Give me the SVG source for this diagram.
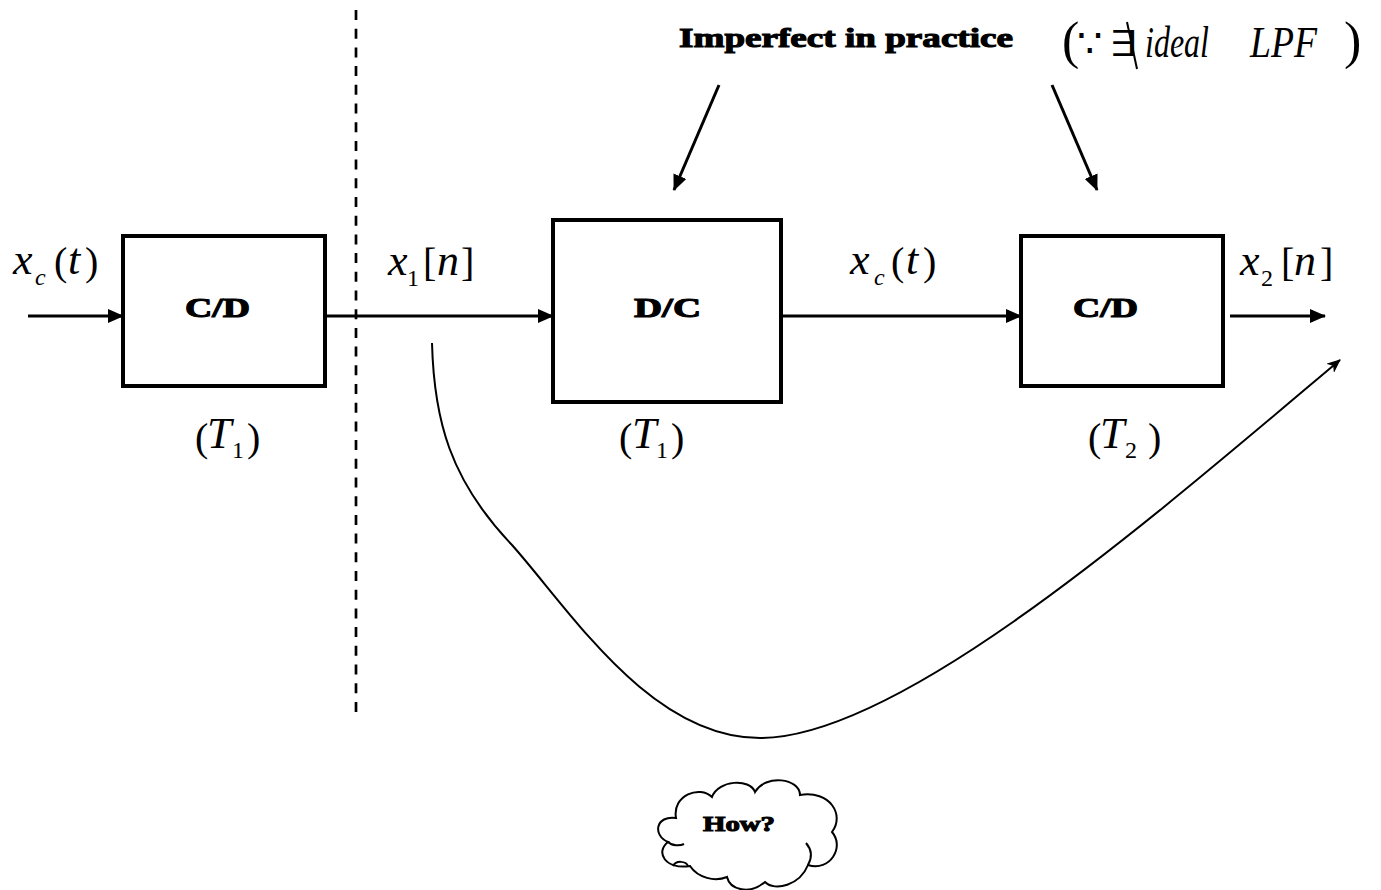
<svg xmlns="http://www.w3.org/2000/svg" width="1381" height="890" viewBox="0 0 1381 890">
<defs>
<style>
.box{fill:#fff;stroke:#000;stroke-width:4}
.ln{fill:none;stroke:#000;stroke-width:3}
.thin{fill:none;stroke:#000;stroke-width:2}
.v{font-style:italic;font-size:44px}
.p{font-size:40px}
.s{font-size:24px}
.bd{font-weight:bold;stroke:#000;stroke-width:1.1}
</style>
<marker id="ah" markerUnits="userSpaceOnUse" markerWidth="16" markerHeight="14" refX="15" refY="7" orient="auto">
<path d="M0,0 L16,7 L0,14 Z" fill="#000"/>
</marker>
<marker id="ah2" markerUnits="userSpaceOnUse" markerWidth="14" markerHeight="12" refX="13" refY="6" orient="auto">
<path d="M0,0 L14,6 L0,12 L4,6 Z" fill="#000"/>
</marker>
</defs>
<rect width="1381" height="890" fill="#fff"/>

<g id="connectors">
<line class="ln" x1="28" y1="316" x2="123" y2="316" marker-end="url(#ah)"/>
<line class="ln" x1="325" y1="316" x2="553" y2="316" marker-end="url(#ah)"/>
<line class="ln" x1="781" y1="316" x2="1021" y2="316" marker-end="url(#ah)"/>
<line class="ln" x1="1230" y1="316" x2="1325" y2="316" marker-end="url(#ah)"/>
<line class="ln" x1="719" y1="85" x2="674" y2="190" marker-end="url(#ah)"/>
<line class="ln" x1="1052" y1="85" x2="1097" y2="190" marker-end="url(#ah)"/>
<path class="thin" d="M432,343 C434,420 450,480 512,545 C570,610 650,738 760,738 C900,738 1150,520 1340,360" marker-end="url(#ah2)"/>
<line x1="356" y1="10" x2="356" y2="720" stroke="#000" stroke-width="2.7" stroke-dasharray="10,8.7"/>
</g>

<g font-family="Liberation Serif, 'Times New Roman', serif" fill="#000">
<g id="cd1">
<rect class="box" x="123" y="236" width="202" height="150"/>
<text class="bd" x="185" y="317" font-size="28" textLength="65" lengthAdjust="spacingAndGlyphs">C/D</text>
</g>
<g id="dc">
<rect class="box" x="553" y="220" width="228" height="182"/>
<text class="bd" x="634" y="317" font-size="28" textLength="67" lengthAdjust="spacingAndGlyphs">D/C</text>
</g>
<g id="cd2">
<rect class="box" x="1021" y="236" width="202" height="150"/>
<text class="bd" x="1073" y="317" font-size="28" textLength="65" lengthAdjust="spacingAndGlyphs">C/D</text>
</g>

<g id="labels">
<text><tspan class="v" x="13" y="274">x</tspan><tspan class="v s" x="35" y="285">c</tspan><tspan class="p" x="54" y="275">(</tspan><tspan class="v" x="68" y="274">t</tspan><tspan class="p" x="85" y="275">)</tspan></text>
<text><tspan class="v" x="388" y="275">x</tspan><tspan class="s" x="407" y="286">1</tspan><tspan class="p" x="423" y="276">[</tspan><tspan class="v" x="437" y="275">n</tspan><tspan class="p" x="461" y="276">]</tspan></text>
<text><tspan class="v" x="850" y="274">x</tspan><tspan class="v s" x="874" y="285">c</tspan><tspan class="p" x="891" y="275">(</tspan><tspan class="v" x="906" y="274">t</tspan><tspan class="p" x="923" y="275">)</tspan></text>
<text><tspan class="v" x="1240" y="275">x</tspan><tspan class="s" x="1261" y="286">2</tspan><tspan class="p" x="1281" y="276">[</tspan><tspan class="v" x="1294" y="275">n</tspan><tspan class="p" x="1320" y="276">]</tspan></text>

<text><tspan class="p" x="195" y="451">(</tspan><tspan class="v" x="207" y="448">T</tspan><tspan class="s" x="232" y="458">1</tspan><tspan class="p" x="247" y="451">)</tspan></text>
<text><tspan class="p" x="619" y="451">(</tspan><tspan class="v" x="632" y="448">T</tspan><tspan class="s" x="656" y="458">1</tspan><tspan class="p" x="671" y="451">)</tspan></text>
<text><tspan class="p" x="1088" y="451">(</tspan><tspan class="v" x="1100" y="448">T</tspan><tspan class="s" x="1125" y="458">2</tspan><tspan class="p" x="1148" y="451">)</tspan></text>

<text class="bd" x="679" y="47" font-size="28" textLength="334" lengthAdjust="spacingAndGlyphs">Imperfect in practice</text>
<text font-size="52" x="1062" y="58">(</text>
<text font-size="40" font-family="DejaVu Serif, serif" x="1077" y="57">∵</text>
<text font-size="36" font-family="DejaVu Serif, serif" x="1110" y="56" textLength="28" lengthAdjust="spacingAndGlyphs">∃</text>
<text class="v" font-size="40" x="1145" y="57" textLength="64" lengthAdjust="spacingAndGlyphs">ideal</text>
<text class="v" font-size="40" x="1250" y="57" textLength="67" lengthAdjust="spacingAndGlyphs">LPF</text>
<text font-size="52" x="1344" y="58">)</text>
<line x1="1127" y1="22" x2="1137" y2="69" stroke="#000" stroke-width="2"/>
</g>

<g id="cloud">
<path class="thin" d="M690,866 C665,870 655,852 668,842 C652,835 656,815 676,818 C672,795 700,785 712,797 C718,780 750,778 755,792 C765,774 800,778 800,795 C830,790 845,815 832,832 C845,847 830,872 808,865 C800,885 775,892 765,882 C750,895 730,890 727,877 C715,882 698,878 690,866 Z"/>
<path class="thin" d="M668,842 C672,846 680,846 684,844"/>
<path class="thin" d="M808,865 C812,858 812,850 806,843"/>
<path class="thin" d="M673,866 C676,860 686,861 688,866"/>
<text class="bd" x="703" y="831" font-size="22" textLength="72" lengthAdjust="spacingAndGlyphs">How?</text>
</g>
</g>
</svg>
